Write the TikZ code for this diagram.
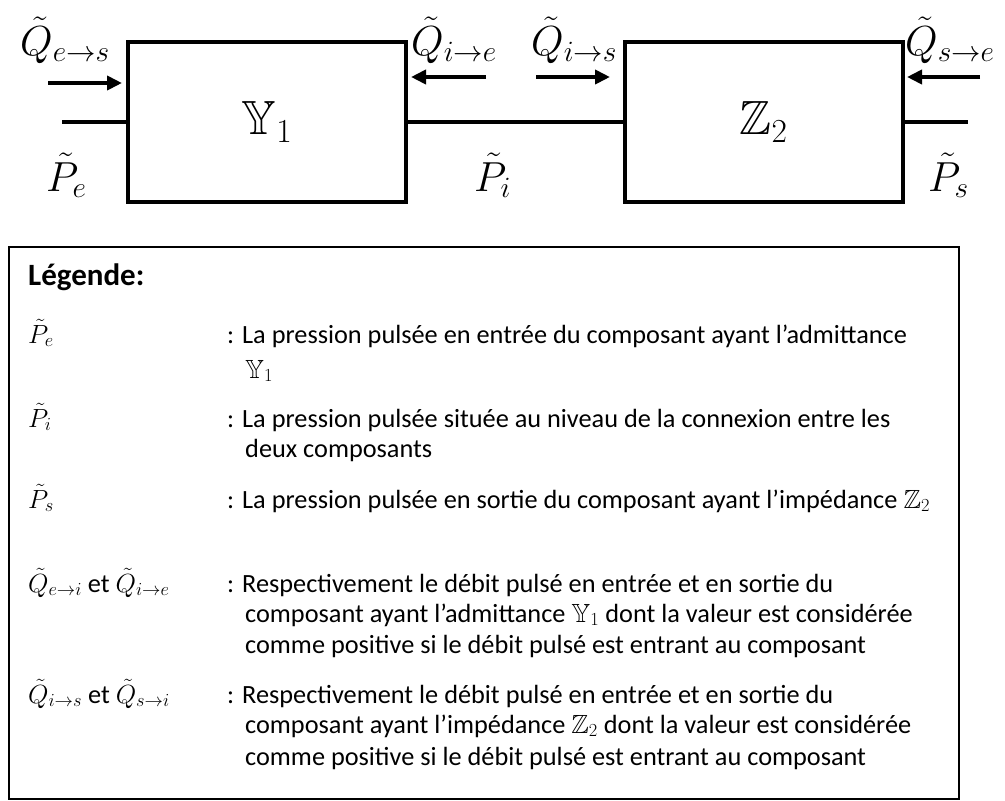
\documentclass[tikz,border=0pt]{standalone}
\usepackage{fix-cm}
\usepackage{amssymb}
\usepackage{fontspec}
\setmainfont{Carlito}
\usetikzlibrary{arrows.meta}
\begin{document}
\begin{tikzpicture}[x=1pt,y=-1pt,
  blk/.style={draw,line width=4pt,minimum width=278pt,minimum height=160pt,inner sep=0pt,font=\fontsize{48}{52}\selectfont},
  wire/.style={line width=4pt},
  flow/.style={line width=4pt,-{Triangle[length=15pt,width=14pt]}},
  biglab/.style={anchor=base west,inner sep=0pt,font=\fontsize{42}{46}\selectfont},
  legtxt/.style={anchor=base west,inner sep=0pt,font=\fontsize{26.3}{30}\selectfont},
  legbox/.style={draw,line width=1.5pt}]
\useasboundingbox (0,0) rectangle (1005,801);
% blocks
\node[blk] (Y) at (267,122) {$\mathbb{Y}_1$};
\node[blk] (Z) at (763.5,122) {$\mathbb{Z}_2$};
% wires
\coordinate (win) at (62,122);
\coordinate (wout) at (968,122);
\draw[wire] (win) -- (Y.west);
\draw[wire] (Y.east) -- (Z.west);
\draw[wire] (Z.east) -- (wout);
% flow arrows
\coordinate (a1s) at (48,83);  \coordinate (a1e) at (122,83);
\coordinate (a2s) at (486,77); \coordinate (a2e) at (411,77);
\coordinate (a3s) at (536,77); \coordinate (a3e) at (610,77);
\coordinate (a4s) at (980,77); \coordinate (a4e) at (907,77);
\draw[flow] (a1s) -- (a1e);
\draw[flow] (a2s) -- (a2e);
\draw[flow] (a3s) -- (a3e);
\draw[flow] (a4s) -- (a4e);
% labels
\node[biglab] (qes) at (20,55) {$\tilde{Q}_{e\to s}$};
\node[biglab] (qie) at (411,55) {$\tilde{Q}_{i\to e}$};
\node[biglab] (qis) at (531,55) {$\tilde{Q}_{i\to s}$};
\node[biglab] (qse) at (905,55) {$\tilde{Q}_{s\to e}$};
\node[biglab] (pe) at (46,191) {$\tilde{P}_e$};
\node[biglab] (pi) at (474,191) {$\tilde{P}_i$};
\node[biglab] (ps) at (928,191) {$\tilde{P}_s$};
% legend
\node[legbox,minimum width=950pt,minimum height=552pt,anchor=north west,inner sep=0pt] (leg) at (8,246) {};
\node[anchor=base west,inner sep=0pt,font=\fontsize{31}{34}\selectfont\bfseries] (lt) at (28,285) {Légende:};
\node[legtxt] (s1) at (28,343) {$\tilde{P}_e$};
\node[legtxt] (s2) at (28,427) {$\tilde{P}_i$};
\node[legtxt] (s3) at (28,508) {$\tilde{P}_s$};
\node[legtxt] (s4) at (28,592) {$\tilde{Q}_{e\to i}$ et $\tilde{Q}_{i\to e}$};
\node[legtxt] (s5) at (28,703) {$\tilde{Q}_{i\to s}$ et $\tilde{Q}_{s\to i}$};
\node[legtxt] (d1a) at (227,343) {: La pression pulsée en entrée du composant ayant l’admittance};
\node[legtxt] (d1b) at (245,378) {$\mathbb{Y}_1$};
\node[legtxt] (d2a) at (227,427) {: La pression pulsée située au niveau de la connexion entre les};
\node[legtxt] (d2b) at (245,457) {deux composants};
\node[legtxt] (d3a) at (227,508) {: La pression pulsée en sortie du composant ayant l’impédance $\mathbb{Z}_2$};
\node[legtxt] (d4a) at (227,592) {: Respectivement le débit pulsé en entrée et en sortie du};
\node[legtxt] (d4b) at (245,622) {composant ayant l’admittance $\mathbb{Y}_1$ dont la valeur est considérée};
\node[legtxt] (d4c) at (245,653) {comme positive si le débit pulsé est entrant au composant};
\node[legtxt] (d5a) at (227,703) {: Respectivement le débit pulsé en entrée et en sortie du};
\node[legtxt] (d5b) at (245,733) {composant ayant l’impédance $\mathbb{Z}_2$ dont la valeur est considérée};
\node[legtxt] (d5c) at (245,765) {comme positive si le débit pulsé est entrant au composant};
\end{tikzpicture}
\end{document}
